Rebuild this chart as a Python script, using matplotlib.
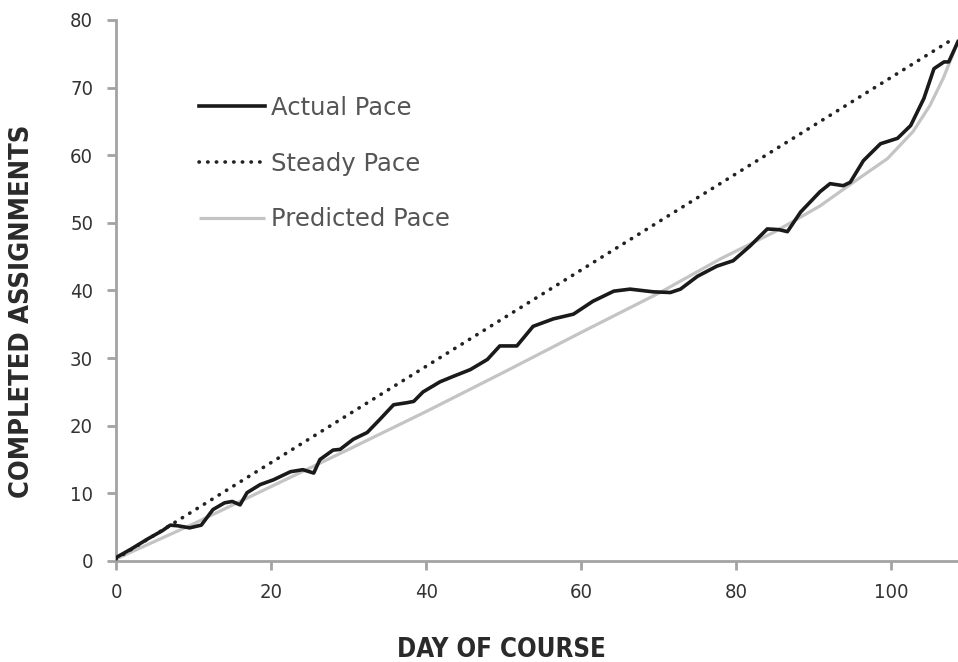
import matplotlib
matplotlib.use("Agg")
import matplotlib.pyplot as plt

plt.rcParams['font.family'] = ['DejaVu Sans']
plt.rcParams['font.stretch'] = 'condensed'

# actual pace
actual_days = [0, 2, 4, 6, 7, 8, 9.5, 11, 12.5, 14, 15, 16, 16.9, 18.6, 20.3, 22.5, 24.1,
               25.5, 26.3, 28, 28.9, 30.6, 32.4, 34, 35.8, 37.5, 38.4, 39.6, 41.8, 43.5,
               45.7, 47.9, 49.5, 51.7, 53.8, 56.4, 59, 61.5, 64.2, 66.3, 69.3, 71.5, 72.8,
               75, 77.5, 79.6, 81.8, 84, 85.5, 86.6, 88.3, 90.8, 92.1, 93.8, 94.7, 96.4,
               98.6, 100.8, 102.5, 104.2, 105.5, 106.8, 107.4, 108.6]
actual_vals = [0.5, 1.8, 3.2, 4.5, 5.3, 5.2, 4.9, 5.3, 7.6, 8.6, 8.8, 8.3, 10.1, 11.3, 12.0,
               13.2, 13.5, 13.0, 15.0, 16.4, 16.5, 18.0, 19.0, 20.9, 23.1, 23.4, 23.6, 25.0,
               26.5, 27.3, 28.3, 29.8, 31.8, 31.8, 34.7, 35.8, 36.5, 38.4, 39.9, 40.2, 39.8,
               39.7, 40.2, 42.1, 43.6, 44.4, 46.6, 49.1, 49.0, 48.7, 51.6, 54.6, 55.8, 55.5,
               56.0, 59.2, 61.7, 62.5, 64.4, 68.4, 72.8, 73.8, 73.8, 76.8]

# steady pace
steady_days = [0, 107.4]
steady_vals = [0.3, 76.8]

# predicted pace
pred_days = [0, 10, 20, 30, 40, 50, 60, 70, 78, 85, 90.8, 95.1, 99.5, 102.8, 105, 106.7,
             107.9, 108.6]
pred_vals = [0.3, 5.5, 11.0, 16.5, 22.1, 27.9, 33.8, 39.6, 44.7, 48.7, 52.5, 56.0, 59.5,
             63.5, 67.4, 71.4, 74.8, 77.0]

x_ticks = [0, 20, 40, 60, 80, 100]
y_ticks = [0, 10, 20, 30, 40, 50, 60, 70, 80]

fig = plt.figure(figsize=(9.58, 6.62), dpi=100, facecolor='white')
ax = fig.add_axes([0.1211, 0.1526, 0.8789, 0.8172])

spine_col = '#a3a3a3'
ax.plot(pred_days, pred_vals, color='#c4c4c4', lw=2.3, solid_capstyle='butt',
        label='Predicted Pace', zorder=2)
ax.plot(steady_days, steady_vals, color='#222222', lw=2.6, linestyle=(0, (0.1, 2.3)),
        dash_capstyle='round', label='Steady Pace', zorder=3)
ax.plot(actual_days, actual_vals, color='#1a1a1a', lw=2.6, solid_joinstyle='round',
        label='Actual Pace', zorder=4)

ax.set_xlim(0, 108.6)
ax.set_ylim(0, 80)
ax.set_xticks(x_ticks)
ax.set_yticks(y_ticks)

for s in ['top', 'right']:
    ax.spines[s].set_visible(False)
for s in ['left', 'bottom']:
    ax.spines[s].set_color(spine_col)
    ax.spines[s].set_linewidth(2.0)
ax.tick_params(axis='both', colors=spine_col, width=2.0, length=6.5, labelsize=14.5,
               labelcolor='#333333')
ax.tick_params(axis='x', pad=9.5)
ax.tick_params(axis='y', pad=10)

ax.set_xlabel('DAY OF COURSE', fontsize=18.5, fontweight='bold', color='#2a2a2a')
ax.set_ylabel('COMPLETED ASSIGNMENTS', fontsize=19.5, fontweight='bold', color='#2a2a2a')
ax.xaxis.set_label_coords(0.458, -0.14)
ax.yaxis.set_label_coords(-0.096, 0.462)

h, l = ax.get_legend_handles_labels()
order = [2, 1, 0]
leg = ax.legend([h[i] for i in order], [l[i] for i in order], loc='upper left',
                bbox_to_anchor=(0.072, 0.9), frameon=False,
                labelspacing=1.3, handlelength=2.75, handletextpad=0.22,
                prop={'family': ['DejaVu Sans'], 'stretch': 'normal', 'size': 17.5})
for t in leg.get_texts():
    t.set_color('#555555')

fig.savefig('out.png', dpi=100, facecolor='white')
